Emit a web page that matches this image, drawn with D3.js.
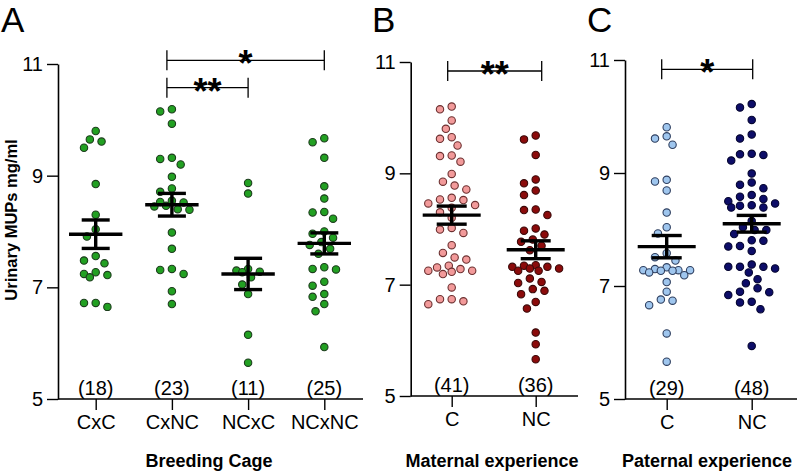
<!DOCTYPE html>
<html><head><meta charset="utf-8">
<script src="https://cdn.jsdelivr.net/npm/d3@7"></script>
<style>body{margin:0;background:#fff}svg{display:block}</style>
</head><body>
<svg id="chart" width="797" height="473"></svg>
<script>
// ---------- DATA ----------
const yTicks = [5, 7, 9, 11];

const groupsA = ["CxC", "CxNC", "NCxC", "NCxNC"];
const countsA = ["(18)", "(23)", "(11)", "(25)"];
const cxc = [9.80, 9.65, 9.61, 9.50, 8.85, 8.30, 8.04, 7.91, 7.56, 7.43, 7.48, 7.27, 7.22, 7.18, 7.24, 6.72, 6.65, 6.72];
const cxnc = [10.15, 10.19, 9.93, 9.32, 9.30, 9.20, 8.98, 8.77, 8.71, 8.53, 8.55, 8.52, 8.46, 8.45, 8.39, 8.40, 7.98, 7.69, 7.33, 7.31, 7.24, 6.93, 6.70];
const ncxc = [8.87, 8.68, 7.27, 7.30, 7.33, 7.28, 7.18, 7.05, 6.88, 6.15, 5.65];
const ncxnc = [9.67, 9.60, 9.32, 8.81, 8.59, 8.34, 8.35, 8.23, 8.00, 7.96, 7.89, 7.81, 7.76, 7.69, 7.60, 7.36, 7.32, 7.33, 7.10, 7.03, 6.88, 6.83, 6.70, 6.57, 5.93];
const sigA = [
  { from: "CxNC", to: "NCxNC", label: "*" },
  { from: "CxNC", to: "NCxC", label: "**" }
];

const groupsB = ["C", "NC"];
const countsB = ["(41)", "(36)"];
const maternalC = [10.15, 10.20, 9.95, 9.80, 9.65, 9.62, 9.50, 9.31, 9.32, 9.21, 8.99, 8.78, 8.85, 8.71, 8.46, 8.53, 8.52, 8.56, 8.43, 8.38, 8.30, 8.20, 7.99, 7.93, 8.02, 7.71, 7.57, 7.49, 7.45, 7.28, 7.34, 7.31, 7.19, 7.23, 7.25, 7.25, 6.95, 6.74, 6.65, 6.70, 6.74];
const maternalNC = [9.68, 9.61, 9.33, 8.89, 8.82, 8.61, 8.69, 8.34, 8.35, 8.25, 8.01, 7.97, 7.90, 7.81, 7.77, 7.70, 7.62, 7.32, 7.25, 7.29, 7.35, 7.25, 7.34, 7.29, 7.32, 7.11, 7.05, 7.03, 6.92, 6.89, 6.83, 6.69, 6.57, 6.14, 5.93, 5.66];
const sigB = [{ from: "C", to: "NC", label: "**" }];

const groupsC = ["C", "NC"];
const countsC = ["(29)", "(48)"];
const paternalC = [9.81, 9.61, 9.65, 9.50, 8.88, 8.85, 8.69, 8.30, 8.04, 7.93, 7.58, 7.51, 7.45, 7.28, 7.33, 7.27, 7.28, 7.19, 7.28, 7.24, 7.30, 7.27, 7.07, 6.90, 6.76, 6.66, 6.74, 6.16, 5.66];
const paternalNC = [10.22, 10.16, 9.94, 9.68, 9.61, 9.33, 9.22, 9.32, 9.34, 8.99, 8.73, 8.83, 8.79, 8.58, 8.39, 8.50, 8.54, 8.61, 8.39, 8.42, 8.43, 8.46, 8.15, 7.99, 7.92, 7.99, 8.04, 7.80, 7.70, 7.62, 7.71, 7.81, 7.38, 7.34, 7.31, 7.34, 7.34, 7.24, 7.12, 7.05, 6.96, 6.89, 6.90, 6.71, 6.84, 6.72, 6.59, 5.94];
const sigC = [{ from: "C", to: "NC", label: "*" }];

// ---------- DRAWING ----------
const svg = d3.select("#chart");
const NARROW = "'Liberation Sans Narrow','Arial Narrow',Arial,sans-serif";
const SANS = "'Liberation Sans',Arial,sans-serif";

// beeswarm: elliptical spacing, bounded width; overlaps allowed when crowded
function swarm(values, cx, y, step, Dx, Dy, maxK) {
  const pts = values.map(v => ({ v, y: y(v) })).sort((a, b) => a.y - b.y);
  const placed = [];
  for (const p of pts) {
    let best = null, bestScore = -1, chosen = null;
    for (let k = 0; k <= maxK && chosen === null; k++) {
      const cands = k === 0 ? [0] : [-k * step, k * step];
      for (const o of cands) {
        let minD = Infinity;
        for (const q of placed) {
          const d = ((q.o - o) / Dx) ** 2 + ((q.y - p.y) / Dy) ** 2;
          if (d < minD) minD = d;
        }
        if (minD >= 1) { chosen = o; break; }
        if (minD > bestScore + 1e-9) { bestScore = minD; best = o; }
      }
    }
    p.o = chosen !== null ? chosen : best;
    placed.push(p);
  }
  return placed.map(p => ({ x: cx + p.o, y: p.y, v: p.v }));
}

function panel(cfg) {
  const g = svg.append("g");
  const y = d3.scaleLinear().domain([5, 11]).range([cfg.yBot, cfg.yTop]);
  const x = d3.scalePoint().domain(cfg.groups).range(cfg.xRange);

  // y axis
  const ya = g.append("g").attr("transform", `translate(${cfg.x0},0)`)
    .call(d3.axisLeft(y).tickValues(yTicks).tickFormat(d3.format("d")).tickSize(11).tickPadding(4).tickSizeOuter(0));
  ya.select(".domain").attr("stroke", "#000").attr("stroke-width", 1.6);
  ya.selectAll(".tick line").attr("stroke", "#000").attr("stroke-width", 1.4);
  ya.selectAll("text").attr("font-family", NARROW).attr("font-size", 20).attr("fill", "#000");

  // x axis
  g.append("line").attr("x1", cfg.x0).attr("x2", cfg.x1).attr("y1", cfg.yBot).attr("y2", cfg.yBot)
    .attr("stroke", "#000").attr("stroke-width", 1.6);
  const xa = g.append("g").attr("transform", `translate(0,${cfg.yBot})`)
    .call(d3.axisBottom(x).tickSize(11).tickPadding(5).tickSizeOuter(0));
  xa.select(".domain").remove();
  xa.selectAll(".tick line").attr("stroke", "#000").attr("stroke-width", 1.4);
  xa.selectAll("text").attr("font-family", NARROW).attr("font-size", 20).attr("fill", "#000");

  // points
  cfg.series.forEach((vals, i) => {
    const pts = swarm(vals, x(cfg.groups[i]), y, 2.925, 11.7, 9, cfg.maxK);
    g.append("g").selectAll("circle").data(pts).join("circle")
      .attr("cx", d => d.x).attr("cy", d => d.y).attr("r", 3.7)
      .attr("fill", cfg.colors[i]).attr("stroke", cfg.strokes[i]).attr("stroke-width", 1.1);
  });

  // mean +/- SEM
  cfg.series.forEach((vals, i) => {
    const m = d3.mean(vals), se = d3.deviation(vals) / Math.sqrt(vals.length);
    const cx = x(cfg.groups[i]);
    const eg = g.append("g").attr("stroke", "#000").attr("stroke-width", 3.4);
    eg.append("line").attr("x1", cx - cfg.meanHalf).attr("x2", cx + cfg.meanHalf).attr("y1", y(m)).attr("y2", y(m));
    eg.append("line").attr("x1", cx).attr("x2", cx).attr("y1", y(m + se)).attr("y2", y(m - se));
    [m + se, m - se].forEach(v => eg.append("line").attr("x1", cx - cfg.capHalf).attr("x2", cx + cfg.capHalf).attr("y1", y(v)).attr("y2", y(v)));
  });

  // counts
  g.append("g").selectAll("text").data(cfg.counts).join("text")
    .attr("x", (d, i) => x(cfg.groups[i])).attr("y", cfg.yBot - 4)
    .attr("text-anchor", "middle").attr("font-family", NARROW).attr("font-size", 20).text(d => d);

  // significance brackets
  cfg.sig.forEach((s, i) => {
    const by = cfg.sigY[i];
    const x1 = x(s.from) - cfg.sigPad[0], x2 = x(s.to) + cfg.sigPad[1];
    const sg = g.append("g").attr("stroke", "#000").attr("stroke-width", 1.3);
    sg.append("line").attr("x1", x1).attr("x2", x2).attr("y1", by).attr("y2", by);
    sg.append("line").attr("x1", x1).attr("x2", x1).attr("y1", by - 10).attr("y2", by + 10);
    sg.append("line").attr("x1", x2).attr("x2", x2).attr("y1", by - 10).attr("y2", by + 10);
    g.append("text").attr("x", (x1 + x2) / 2).attr("y", by + 16)
      .attr("text-anchor", "middle").attr("font-family", SANS).attr("font-weight", "bold")
      .attr("font-size", 36).text(s.label);
  });

  // titles
  g.append("text").attr("x", cfg.titleX).attr("y", 467).attr("text-anchor", "middle")
    .attr("font-family", SANS).attr("font-weight", "bold").attr("font-size", 18).text(cfg.title);
  g.append("text").attr("x", cfg.letterX).attr("y", 32).attr("font-family", SANS)
    .attr("font-size", 35).text(cfg.letter);
}

panel({
  groups: groupsA, series: [cxc, cxnc, ncxc, ncxnc], counts: countsA, sig: sigA,
  sigY: [60.3, 87.7], sigPad: [5, 0], maxK: 6,
  colors: ["#22a022", "#22a022", "#22a022", "#22a022"],
  strokes: ["#1d3d1d", "#1d3d1d", "#1d3d1d", "#1d3d1d"],
  x0: 58, x1: 363, yTop: 64, yBot: 399, xRange: [95.7, 324.3],
  meanHalf: 26.7, capHalf: 14, title: "Breeding Cage", titleX: 209, letter: "A", letterX: 1
});
panel({
  groups: groupsB, series: [maternalC, maternalNC], counts: countsB, sig: sigB,
  sigY: [71], sigPad: [4, 6], maxK: 8,
  colors: ["#f29a9a", "#8b0b0b"], strokes: ["#6b3030", "#3a0a0a"],
  x0: 410.7, x1: 578, yTop: 62, yBot: 396, xRange: [451.7, 535.7],
  meanHalf: 29, capHalf: 15, title: "Maternal experience", titleX: 492, letter: "B", letterX: 372
});
panel({
  groups: groupsC, series: [paternalC, paternalNC], counts: countsC, sig: sigC,
  sigY: [69.3], sigPad: [5, 1], maxK: 8,
  colors: ["#9fc6ee", "#0d0d68"], strokes: ["#2f3f5f", "#050530"],
  x0: 625, x1: 797, yTop: 60, yBot: 399, xRange: [666.7, 751.7],
  meanHalf: 29, capHalf: 15, title: "Paternal experience", titleX: 707, letter: "C", letterX: 587
});

// shared y title
svg.append("text").attr("transform", "translate(17,220) rotate(-90)")
  .attr("text-anchor", "middle").attr("font-family", SANS).attr("font-weight", "bold")
  .attr("font-size", 16.5).text("Urinary MUPs mg/ml");
</script>
</body></html>
